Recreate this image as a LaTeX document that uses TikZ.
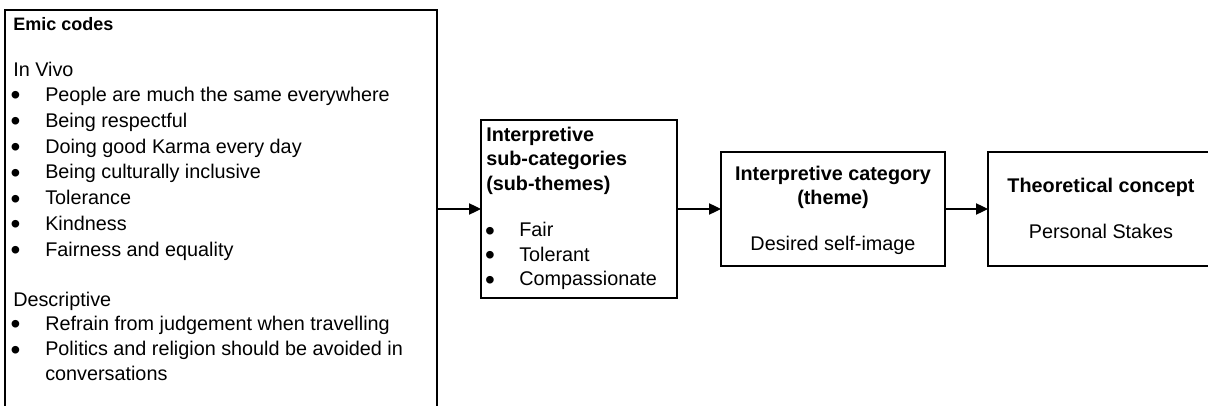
\documentclass[tikz,border=0pt]{standalone}
\usepackage{fontspec}
\setmainfont{Liberation Sans}
\usetikzlibrary{arrows.meta}
\begin{document}
\begin{tikzpicture}[x=0.75pt,y=-0.75pt,
  every node/.style={font=\fontsize{14.85}{18}\selectfont,inner sep=0pt},
  box/.style={draw,line width=0.9pt,anchor=north west,outer sep=0pt},
  head/.style={font=\fontsize{14.85}{18}\selectfont\bfseries},
  dot/.style={font=\fontsize{21}{21}\selectfont,anchor=base,text height=9pt,text depth=0pt},
  flow/.style={-{Triangle[length=9pt,width=8.5pt]},line width=0.9pt}]
  \useasboundingbox (0,0) rectangle (1208,406);
  \node[box,minimum width=324pt,minimum height=298.5pt] (emic) at (5,10) {};
  \node[box,minimum width=147pt,minimum height=133.5pt] (sub) at (481,120) {};
  \node[box,minimum width=168pt,minimum height=85.5pt] (theme) at (721,152) {};
  \node[box,minimum width=170.25pt,minimum height=85.5pt] (concept) at (988,152) {};
  \draw[flow] (emic.east) -- (sub.west);
  \draw[flow] (sub.east) -- (theme.west);
  \draw[flow] (theme.east) -- (concept.west);
  \node[anchor=base west,font=\fontsize{13.5}{16}\selectfont\bfseries] (emic-head) at (13,30.7) {Emic codes};
  \node[anchor=base west] (invivo) at (13,77) {In Vivo};
  \foreach \y/\t [count=\i] in {101.5/People are much the same everywhere,127.3/Being respectful,
      153.1/Doing good Karma every day,178.9/Being culturally inclusive,204.7/Tolerance,
      230.5/Kindness,256.3/Fairness and equality} {
    \node[dot] (vivo-dot-\i) at (15.5,\y+3.5) {•};
    \node[anchor=base west] (vivo-\i) at (45,\y) {\t};
  }
  \node[anchor=base west] (descr) at (13,306) {Descriptive};
  \foreach \y/\t [count=\i] in {330/Refrain from judgement when travelling,355.7/Politics and religion should be avoided in} {
    \node[dot] (descr-dot-\i) at (15.5,\y+3.5) {•};
    \node[anchor=base west] (descr-\i) at (45,\y) {\t};
  }
  \node[anchor=base west] (descr-2b) at (45,380) {conversations};
  \node[head,anchor=base west] (sub-head1) at (486,141.7) {Interpretive};
  \node[head,anchor=base west] (sub-head2) at (486,166) {sub-categories};
  \node[head,anchor=base west] (sub-head3) at (486,190.5) {(sub-themes)};
  \foreach \y/\t [count=\i] in {237/Fair,261.5/Tolerant,286/Compassionate} {
    \node[dot] (sub-dot-\i) at (490,\y+3.5) {•};
    \node[anchor=base west] (sub-\i) at (519,\y) {\t};
  }
  \node[head,anchor=base] (theme-head1) at (833,180.7) {Interpretive category};
  \node[head,anchor=base] (theme-head2) at (833,205) {(theme)};
  \node[anchor=base] (theme-text) at (833,250.7) {Desired self-image};
  \node[head,anchor=base] (concept-head) at (1101,192.3) {Theoretical concept};
  \node[anchor=base] (concept-text) at (1101,239) {Personal Stakes};
\end{tikzpicture}
\end{document}
